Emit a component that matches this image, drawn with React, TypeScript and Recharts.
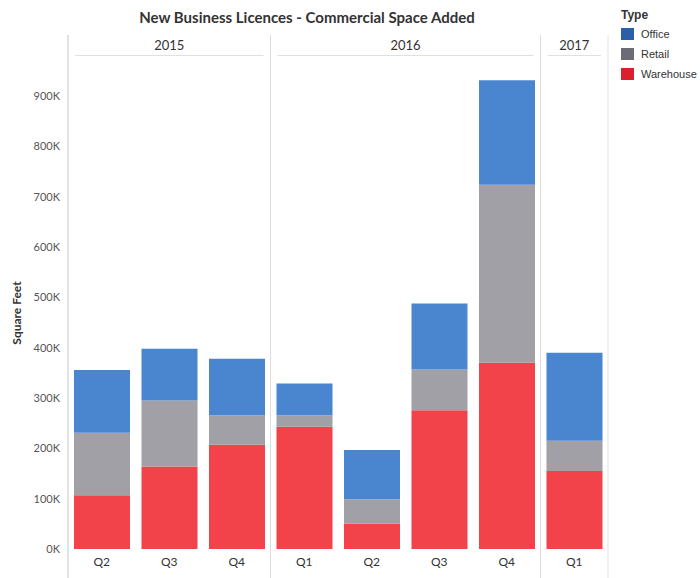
import { BarChart, Bar, XAxis, YAxis } from 'recharts'

// quarters along the x axis, grouped by year panels
const periods = ['2015 Q2', '2015 Q3', '2015 Q4', '2016 Q1', '2016 Q2', '2016 Q3', '2016 Q4', '2017 Q1']
const years = ['2015', '2016', '2017']
const yearSpans = [3, 4, 1]

// square feet added
const warehouse = [107000, 164000, 207000, 243000, 50000, 276000, 370000, 155000]
const retail = [124000, 131000, 59000, 23000, 49000, 81000, 354000, 60000]
const office = [125000, 103000, 112000, 63000, 98000, 131000, 208000, 175000]

const yTicks = [0, 100000, 200000, 300000, 400000, 500000, 600000, 700000, 800000, 900000]

const SERIES = [
  { key: 'Office', bar: '#4a86d0', swatch: '#2d5fa9' },
  { key: 'Retail', bar: '#a0a0a6', swatch: '#6c6c75' },
  { key: 'Warehouse', bar: '#f2434b', swatch: '#d9202f' },
]

const W = 700
const H = 578
const MARGIN = { top: 57, right: 92, bottom: 0, left: 0 }
const Y_AXIS_W = 68
const X_AXIS_H = 29
const Y_MAX = 978000
const TICK_FONT = 'Lato, "Open Sans", sans-serif'

const PLOT_W = W - MARGIN.left - MARGIN.right - Y_AXIS_W
const SLOT = PLOT_W / periods.length

const data = periods.map((p, i) => ({
  period: p,
  Warehouse: warehouse[i],
  Retail: retail[i],
  Office: office[i],
}))

// index of the first quarter of each year panel
const panelStarts = yearSpans.reduce<number[]>((acc, n, i) => [...acc, i === 0 ? 0 : acc[i - 1] + yearSpans[i - 1]], [])

const colorOf = (k: string) => SERIES.find((s) => s.key === k)!.bar

// quarter label plus the panel frame (dividers, year header) drawn off the band positions
function QuarterTick(props: any) {
  const { x, y, payload, index } = props
  const half = payload?.offset || SLOT / 2
  const left = x - half
  const panel = panelStarts.indexOf(index)
  const isLast = index === periods.length - 1
  const lineTop = 35
  const lineBottom = H
  return (
    <g>
      {panel >= 0 && (
        <>
          <line x1={left} x2={left} y1={lineTop} y2={lineBottom} stroke={panel === 0 ? '#c4c4c4' : '#dcdcdc'} />
          <line
            x1={left + 7}
            x2={left + yearSpans[panel] * half * 2 - 7}
            y1={55.5}
            y2={55.5}
            stroke="#e0e0e0"
          />
          <text
            x={left + yearSpans[panel] * half}
            y={45}
            textAnchor="middle"
            dominantBaseline="central"
            fontFamily={TICK_FONT}
            fontSize={13}
            fill="#333"
          >
            {years[panel]}
          </text>
        </>
      )}
      {isLast && <line x1={x + half} x2={x + half} y1={lineTop} y2={lineBottom} stroke="#e2e2e2" />}
      <text x={x} y={y} dy="0.71em" textAnchor="middle" fontFamily={TICK_FONT} fontSize={12} fill="#333">
        {String(payload.value).split(' ')[1]}
      </text>
    </g>
  )
}

export default function App() {
  return (
    <div style={{ position: 'relative', width: W, height: H, background: '#fff' }}>
      <style>{'body{margin:0}'}</style>
      <div
        style={{
          position: 'absolute',
          left: 0,
          width: 614,
          top: 8,
          textAlign: 'center',
          fontFamily: TICK_FONT,
          fontWeight: 700,
          fontSize: 15,
          color: '#333',
        }}
      >
        New Business Licences - Commercial Space Added
      </div>

      <BarChart width={W} height={H} data={data} margin={MARGIN} barSize={56}>
        <XAxis
          dataKey="period"
          axisLine={false}
          tickLine={false}
          height={X_AXIS_H}
          interval={0}
          tick={<QuarterTick />}
        />
        <YAxis
          width={Y_AXIS_W}
          domain={[0, Y_MAX]}
          allowDataOverflow
          ticks={yTicks}
          tickFormatter={(v: number) => `${v / 1000}K`}
          axisLine={false}
          tickLine={false}
          tick={{ fontFamily: TICK_FONT, fontSize: 11, fill: '#555' }}
          label={{
            value: 'Square Feet',
            angle: -90,
            position: 'insideLeft',
            dx: 12,
            dy: 10,
            style: { fontFamily: TICK_FONT, fontSize: 12, fontWeight: 700, fill: '#333', textAnchor: 'middle' },
          }}
        />
        {['Warehouse', 'Retail', 'Office'].map((k) => (
          <Bar key={k} dataKey={k} stackId="a" fill={colorOf(k)} isAnimationActive={false} />
        ))}
      </BarChart>

      <div
        style={{
          position: 'absolute',
          left: 621,
          top: 8,
          fontFamily: '"Liberation Sans", Arial, sans-serif',
          fontSize: 11,
          color: '#333',
        }}
      >
        <div style={{ fontWeight: 700, fontSize: 12, marginBottom: 2 }}>Type</div>
        {SERIES.map((s) => (
          <div key={s.key} style={{ display: 'flex', alignItems: 'center', height: 20 }}>
            <span style={{ width: 13, height: 12, background: s.swatch, marginRight: 7, display: 'inline-block' }} />
            <span>{s.key}</span>
          </div>
        ))}
      </div>
    </div>
  )
}
